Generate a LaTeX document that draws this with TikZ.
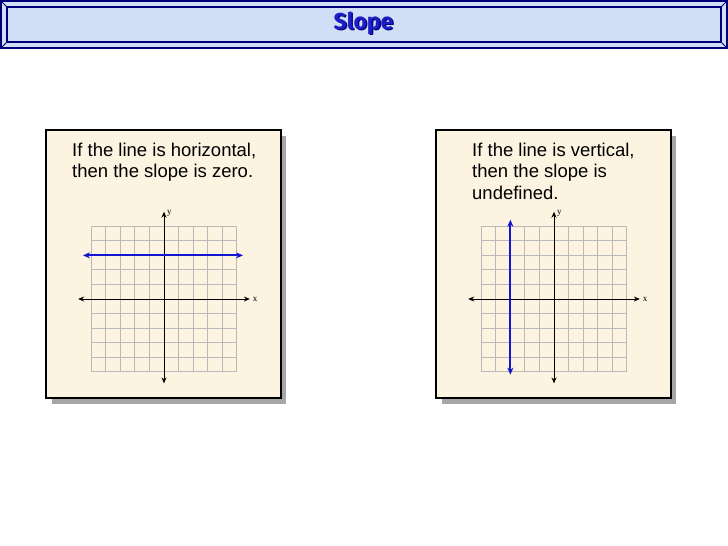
\documentclass[tikz,border=0pt]{standalone}
\usepackage{fontspec}
\setmainfont{Liberation Sans}
\newfontfamily\titlefont{Fira Sans}
\newfontfamily\axisfont{Liberation Serif}
\usetikzlibrary{arrows.meta}
\definecolor{paper}{RGB}{252,243,225}
\definecolor{barblue}{RGB}{208,222,246}
\definecolor{navy}{RGB}{0,0,120}
\definecolor{titleblue}{RGB}{30,30,200}
\definecolor{lineblue}{RGB}{20,20,210}
\definecolor{gridgray}{RGB}{185,185,185}
\tikzset{>={Stealth[length=6pt,width=5pt]}}
\tikzset{%
    panel/.style={draw=black, line width=1.2pt, fill=paper},
    panelshadow/.style={fill=black!35},
    axis/.style={<->, line width=1pt},
    bluearrow/.style={{Stealth[length=7pt,width=6pt]}-{Stealth[length=7pt,width=6pt]}, line width=2.2pt, lineblue},
    squares/.style={gridgray, line width=0.9pt},
    lbl/.style={font=\axisfont\fontsize{9}{10}\selectfont, inner sep=0.5pt},
    caption/.style={align=left, anchor=north west, inner sep=0pt, font=\fontsize{18.5}{21.7}\selectfont}
}

\begin{document}
\begin{tikzpicture}[x=1pt,y=-1pt]
    \useasboundingbox[fill=white] (0,0) rectangle (728,546);
    % title bar
    \draw[navy, line width=1.2pt, fill=barblue] (1,1) rectangle (727,48);
    \draw[navy, line width=1.2pt] (7,7) rectangle (721,42);
    \draw[navy, line width=0.8pt] (1,1) -- (7,7) (727,1) -- (721,7)
        (1,48) -- (7,42) (727,48) -- (721,42);
    \node[font=\titlefont\bfseries\fontsize{23}{26}\selectfont, text=navy, anchor=base] (titleshadow) at (364.8,30.2) {Slope};
    \node[font=\titlefont\bfseries\fontsize{23}{26}\selectfont, text=titleblue, anchor=base] (title) at (363.5,29) {Slope};

    % horizontal line
    \fill[panelshadow] (52,136) rectangle (286,404);
    \draw[panel] (46,130) rectangle (281,398);
    \node[caption] (capH) at (72,142.5) {If the line is horizontal,\\then the slope is zero.};
    \begin{scope}[shift={(164,299)}, x=14.55pt, y=14.55pt]
        \draw[squares, step={(1,1)}] (-5,-5) grid (5,5);
        \draw[axis] (-5.9,0) -- (5.9,0) node[lbl, right, xshift=2pt] (xH) {x};
        \draw[axis] (0,-5.8) -- (0,6.0) node[lbl, below right, xshift=2pt, yshift=2pt] (yH) {y};
        \draw[bluearrow] (-5.57,3) -- (5.43,3);
    \end{scope}

    % vertical line
    \fill[panelshadow] (442,136) rectangle (676,404);
    \draw[panel] (436,130) rectangle (671,398);
    \node[caption] (capV) at (472,142.5) {If the line is vertical,\\then the slope is\\undefined.};
    \begin{scope}[shift={(554,299)}, x=14.55pt, y=14.55pt]
        \draw[squares, step={(1,1)}] (-5,-5) grid (5,5);
        \draw[axis] (-5.9,0) -- (5.9,0) node[lbl, right, xshift=2pt] (xV) {x};
        \draw[axis] (0,-5.8) -- (0,6.0) node[lbl, below right, xshift=2pt, yshift=2pt] (yV) {y};
        \draw[bluearrow] (-3,5.45) -- (-3,-5.2);
    \end{scope}
\end{tikzpicture}
\end{document}
